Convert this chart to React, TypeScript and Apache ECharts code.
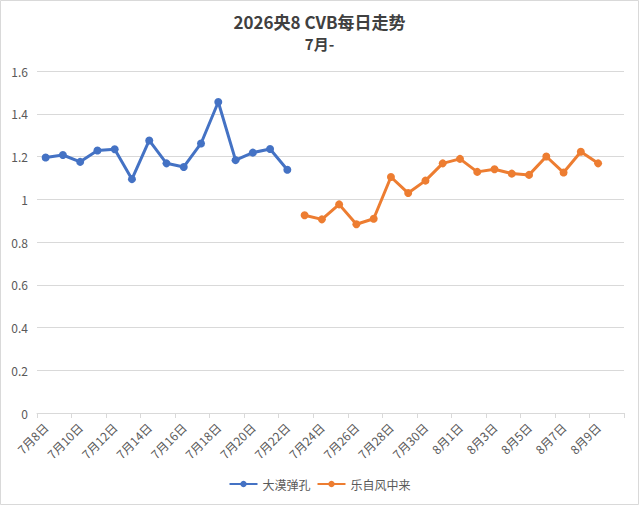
import React, { useEffect, useRef } from "react";
import * as echarts from "echarts";

const categories = [
  "7月8日", "7月9日", "7月10日", "7月11日", "7月12日", "7月13日", "7月14日", "7月15日",
  "7月16日", "7月17日", "7月18日", "7月19日", "7月20日", "7月21日", "7月22日", "7月23日",
  "7月24日", "7月25日", "7月26日", "7月27日", "7月28日", "7月29日", "7月30日", "7月31日",
  "8月1日", "8月2日", "8月3日", "8月4日", "8月5日", "8月6日", "8月7日", "8月8日",
  "8月9日", "8月10日",
];

const seriesNames = ["大漠弹孔", "乐自风中来"];

const blueValues = [
  1.195, 1.207, 1.175, 1.228, 1.234, 1.094, 1.275, 1.168, 1.151, 1.261, 1.455, 1.183,
  1.218, 1.235, 1.138, null, null, null, null, null, null, null, null, null, null, null,
  null, null, null, null, null, null, null, null,
];

const orangeValues = [
  null, null, null, null, null, null, null, null, null, null, null, null, null, null, null,
  0.925, 0.906, 0.976, 0.883, 0.909, 1.104, 1.029, 1.087, 1.168, 1.189, 1.128, 1.14,
  1.12, 1.114, 1.2, 1.125, 1.222, 1.168, null,
];

const FONT = "'Noto Sans CJK SC', 'Noto Sans', sans-serif";

export default function App() {
  const ref = useRef<HTMLDivElement>(null);
  useEffect(() => {
    document.body.style.margin = "0";
    if (!ref.current) return;
    const chart = echarts.init(ref.current, undefined, { renderer: "svg" });
    chart.setOption({
      animation: false,
      backgroundColor: "#ffffff",
      textStyle: { fontFamily: FONT },
      title: {
        text: "2026央8 CVB每日走势",
        subtext: "7月-",
        left: "center",
        top: 8,
        itemGap: 6,
        textStyle: { fontSize: 17, fontWeight: "bold", color: "#404040", fontFamily: FONT },
        subtextStyle: { fontSize: 15, fontWeight: "bold", color: "#404040", fontFamily: FONT },
      },
      graphic: [
        {
          type: "rect",
          shape: { x: 0.5, y: 0.5, width: 638, height: 504 },
          style: { fill: "none", stroke: "#d9d9d9", lineWidth: 1 },
          silent: true,
        },
      ],
      legend: {
        bottom: 10,
        left: "center",
        itemGap: 6,
        itemWidth: 28,
        itemHeight: 8,
        textStyle: { fontSize: 12, color: "#595959", fontFamily: FONT },
        data: seriesNames,
      },
      grid: { left: 37, right: 15, top: 71, bottom: 92, containLabel: false },
      xAxis: {
        type: "category",
        data: categories,
        boundaryGap: true,
        axisLine: { lineStyle: { color: "#d9d9d9", width: 1 } },
        axisTick: { show: true, interval: 1, length: 5, lineStyle: { color: "#d9d9d9" } },
        axisLabel: {
          interval: 1,
          rotate: 45,
          color: "#595959",
          fontSize: 12,
          margin: 12,
          fontFamily: FONT,
        },
      },
      yAxis: {
        type: "value",
        min: 0,
        max: 1.6,
        interval: 0.2,
        axisLine: { show: false },
        axisTick: { show: false },
        splitLine: { lineStyle: { color: "#d9d9d9", width: 1 } },
        axisLabel: { color: "#595959", fontSize: 12, margin: 9, fontFamily: FONT },
      },
      series: [
        {
          name: seriesNames[0],
          type: "line",
          data: blueValues,
          symbol: "circle",
          symbolSize: 8,
          connectNulls: false,
          lineStyle: { width: 3, color: "#4472C4" },
          itemStyle: { color: "#4472C4" },
        },
        {
          name: seriesNames[1],
          type: "line",
          data: orangeValues,
          symbol: "circle",
          symbolSize: 8,
          connectNulls: false,
          lineStyle: { width: 3, color: "#ED7D31" },
          itemStyle: { color: "#ED7D31" },
        },
      ],
    });
    return () => chart.dispose();
  }, []);
  return <div ref={ref} style={{ width: 639, height: 505 }} />;
}
